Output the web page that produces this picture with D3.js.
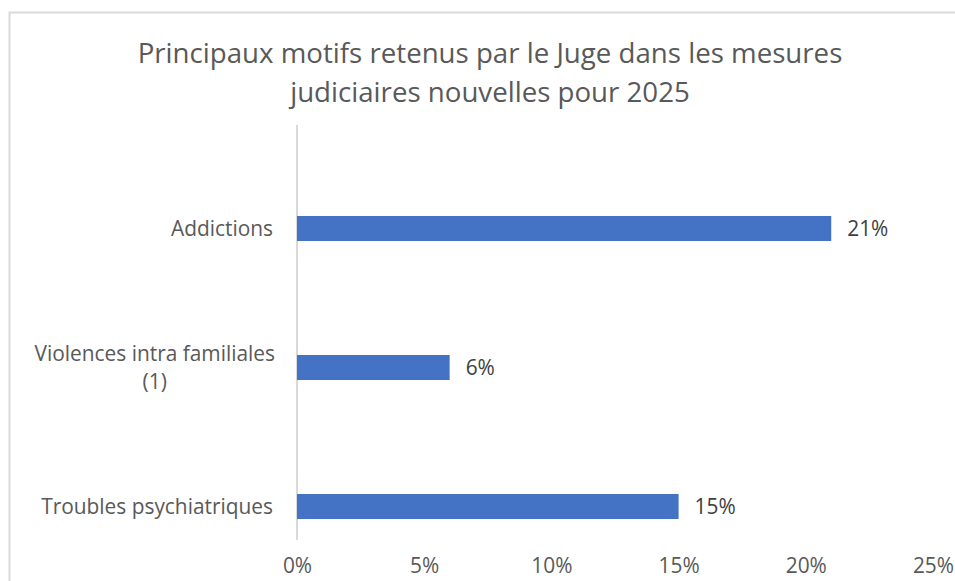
<!DOCTYPE html>
<html>
<head>
<meta charset="utf-8">
<script src="https://cdn.jsdelivr.net/npm/d3@7"></script>
<style>
  html, body { margin: 0; padding: 0; background: #fff; overflow: hidden; }
  svg { display: block; font-family: "Open Sans", "Noto Sans", sans-serif; }
</style>
</head>
<body>
<svg id="chart" width="955" height="581"></svg>
<script>
const titleLines = ["Principaux motifs retenus par le Juge dans les mesures", "judiciaires nouvelles pour 2025"];
const categories = ["Addictions", "Violences intra familiales (1)", "Troubles psychiatriques"];
const categoryLines = [["Addictions"], ["Violences intra familiales", "(1)"], ["Troubles psychiatriques"]];
const values = [0.21, 0.06, 0.15];
const xTicks = [0, 0.05, 0.10, 0.15, 0.20, 0.25];

const svg = d3.select("#chart");

// chart frame (extends beyond visible area like the reference crop)
svg.append("rect")
  .attr("x", 9.5).attr("y", 12.5)
  .attr("width", 1000).attr("height", 700)
  .attr("fill", "#fff").attr("stroke", "#d9d9d9").attr("stroke-width", 2);

const x = d3.scaleLinear().domain([0, 0.25]).range([297, 933]);
const y = d3.scaleBand().domain(categories).range([159, 576]).paddingInner(0.82).paddingOuter(0.41);

function fitSize(sel, target, base) {
  sel.attr("font-size", base);
  const w = sel.node().getComputedTextLength();
  return base * target / w;
}

const probe = svg.append("text").text("Troubles psychiatriques");
const labelSize = fitSize(probe, 232, 20);
probe.text(titleLines[0]);
const titleSize = fitSize(probe, 705, 26);
probe.remove();

// title
svg.append("g").selectAll("text").data(titleLines).join("text")
  .attr("x", 490)
  .attr("y", (d, i) => 63 + i * 39)
  .attr("text-anchor", "middle")
  .attr("font-size", titleSize)
  .attr("fill", "#595959")
  .text(d => d);

// vertical axis line
svg.append("line")
  .attr("x1", x(0)).attr("x2", x(0))
  .attr("y1", 125).attr("y2", 540)
  .attr("stroke", "#d9d9d9").attr("stroke-width", 2);

// bars
svg.append("g").selectAll("rect").data(values).join("rect")
  .attr("x", x(0))
  .attr("y", (d, i) => y(categories[i]))
  .attr("width", d => x(d) - x(0))
  .attr("height", y.bandwidth())
  .attr("fill", "#4472C4");

// data labels
svg.append("g").selectAll("text").data(values).join("text")
  .attr("x", d => x(d) + 16)
  .attr("y", (d, i) => y(categories[i]) + y.bandwidth() / 2)
  .attr("dy", "0.35em")
  .attr("font-size", labelSize)
  .attr("fill", "#404040")
  .text(d => d3.format(".0%")(d));

// category labels
const catG = svg.append("g");
categories.forEach((c, i) => {
  const lines = categoryLines[i];
  const cy = y(c) + y.bandwidth() / 2;
  const lh = 28;
  const t = catG.append("text")
    .attr("font-size", labelSize)
    .attr("fill", "#595959");
  if (lines.length === 1) {
    t.attr("x", 273).attr("y", cy).attr("dy", "0.35em").attr("text-anchor", "end").text(lines[0]);
  } else {
    const tmp = svg.append("text").attr("font-size", labelSize).text(lines[0]);
    const wmax = tmp.node().getComputedTextLength();
    tmp.remove();
    const cx = 275 - wmax / 2;
    t.attr("text-anchor", "middle");
    lines.forEach((ln, j) => {
      t.append("tspan")
        .attr("x", cx)
        .attr("y", cy + (j - (lines.length - 1) / 2) * lh)
        .attr("dy", "0.35em")
        .text(ln);
    });
  }
});

// x axis tick labels
const xAxis = d3.axisBottom(x).tickValues(xTicks).tickSize(0).tickPadding(0).tickFormat(d3.format(".0%"));
const gx = svg.append("g").attr("transform", "translate(0,558)").call(xAxis);
gx.select(".domain").remove();
gx.selectAll("text")
  .attr("font-size", labelSize)
  .attr("font-family", "Open Sans, Noto Sans, sans-serif")
  .attr("fill", "#595959")
  .attr("dy", "0.71em")
  .attr("y", 0);
</script>
</body>
</html>
